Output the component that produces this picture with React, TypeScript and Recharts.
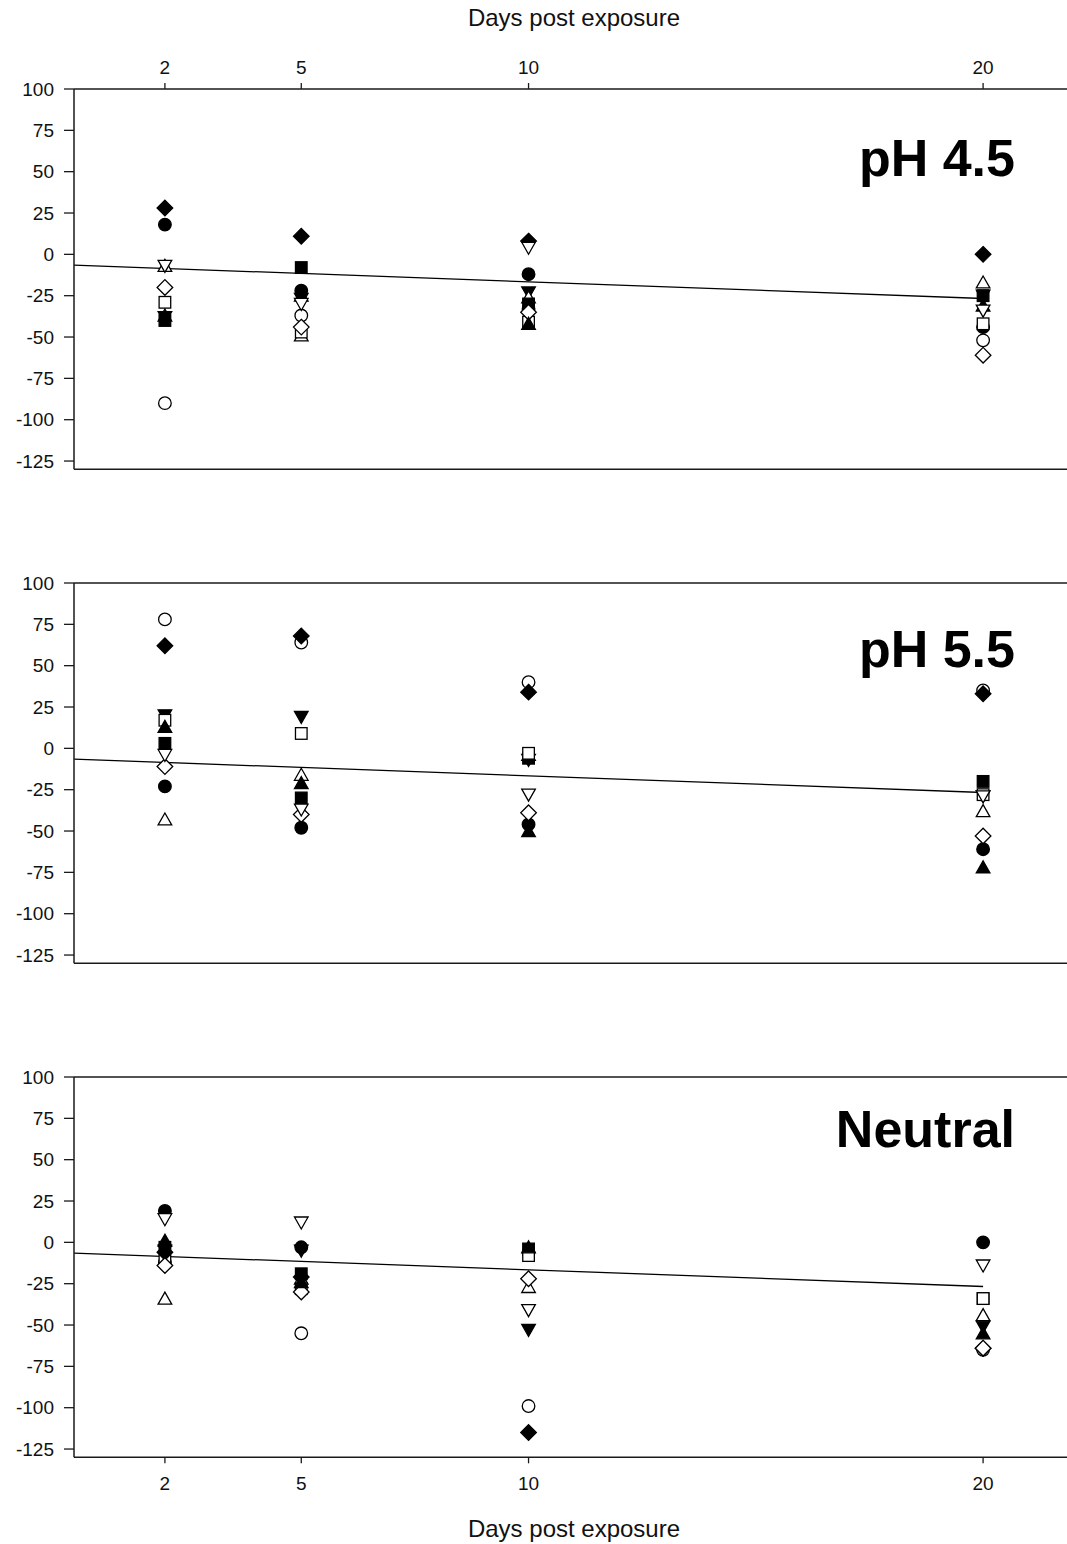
import React from 'react';
import { ScatterChart, Scatter, XAxis, YAxis, ReferenceLine } from 'recharts';

// ---------- data ----------
const days = [2, 5, 10, 20];
const dayTicks = [2, 5, 10, 20];
const yTicks = [-125, -100, -75, -50, -25, 0, 25, 50, 75, 100];
const yDomain = [-130, 100];
const xDomain = [0, 22];
const fitDays = [0, 20];
const fitValues = [-6.5, -26.7];
const panelLabels = ['pH 4.5', 'pH 5.5', 'Neutral'];
const axisTitle = 'Days post exposure';

// pH 4.5
const ph45FilledCircle = [18, -22, -12, -44];
const ph45OpenCircle = [-90, -37, -33, -52];
const ph45FilledTriDown = [-38, -27, -23, -25];
const ph45OpenTriUp = [-7, -49, -26, -17];
const ph45FilledSquare = [-40, -8, -30, -25];
const ph45OpenSquare = [-29, -47, -41, -42];
const ph45FilledDiamond = [28, 11, 8, 0];
const ph45OpenDiamond = [-20, -44, -35, -61];
const ph45FilledTriUp = [-37, -25, -42, -31];
const ph45OpenTriDown = [-7, -30, 4, -34];

// pH 5.5
const ph55FilledCircle = [-23, -48, -46, -61];
const ph55OpenCircle = [78, 64, 40, 35];
const ph55FilledTriDown = [20, 19, -7, -29];
const ph55OpenTriUp = [-43, -16, -4, -38];
const ph55FilledSquare = [3, -30, -6, -20];
const ph55OpenSquare = [17, 9, -3, -28];
const ph55FilledDiamond = [62, 68, 34, 33];
const ph55OpenDiamond = [-11, -40, -39, -53];
const ph55FilledTriUp = [13, -21, -50, -72];
const ph55OpenTriDown = [-4, -37, -28, -29];

// Neutral
const neuFilledCircle = [19, -3, -6, 0];
const neuOpenCircle = [-12, -55, -99, -65];
const neuFilledTriDown = [-5, -5, -53, -51];
const neuOpenTriUp = [-34, -22, -27, -44];
const neuFilledSquare = [-3, -19, -4, -34];
const neuOpenSquare = [-11, -28, -8, -34];
const neuFilledDiamond = [-6, -21, -115, -64];
const neuOpenDiamond = [-14, -30, -22, -64];
const neuFilledTriUp = [1, -24, -3, -55];
const neuOpenTriDown = [14, 12, -41, -14];

// ---------- styling ----------
const FONT = '"Liberation Sans", Arial, Helvetica, sans-serif';
const AXIS = '#1a1a1a';

type Kind = 'circle' | 'up' | 'down' | 'square' | 'diamond';

// drawing order (later ones on top)
const seriesStyles: { kind: Kind; filled: boolean }[] = [
  { kind: 'circle', filled: true },
  { kind: 'circle', filled: false },
  { kind: 'down', filled: true },
  { kind: 'up', filled: false },
  { kind: 'square', filled: true },
  { kind: 'square', filled: false },
  { kind: 'diamond', filled: true },
  { kind: 'diamond', filled: false },
  { kind: 'up', filled: true },
  { kind: 'down', filled: false },
];

const panelSeries = [
  [ph45FilledCircle, ph45OpenCircle, ph45FilledTriDown, ph45OpenTriUp, ph45FilledSquare,
   ph45OpenSquare, ph45FilledDiamond, ph45OpenDiamond, ph45FilledTriUp, ph45OpenTriDown],
  [ph55FilledCircle, ph55OpenCircle, ph55FilledTriDown, ph55OpenTriUp, ph55FilledSquare,
   ph55OpenSquare, ph55FilledDiamond, ph55OpenDiamond, ph55FilledTriUp, ph55OpenTriDown],
  [neuFilledCircle, neuOpenCircle, neuFilledTriDown, neuOpenTriUp, neuFilledSquare,
   neuOpenSquare, neuFilledDiamond, neuOpenDiamond, neuFilledTriUp, neuOpenTriDown],
];

function Marker(props: any) {
  const { cx, cy, kind, filled } = props;
  if (cx == null || cy == null) return null;
  const fill = filled ? '#000' : '#fff';
  const common = { fill, stroke: '#000', strokeWidth: 1.3 };
  switch (kind as Kind) {
    case 'circle':
      return <circle cx={cx} cy={cy} r={6.3} {...common} />;
    case 'square':
      return <rect x={cx - 5.8} y={cy - 5.8} width={11.6} height={11.6} {...common} />;
    case 'up':
      return <path d={`M${cx},${cy - 6.5} L${cx + 6.8},${cy + 5.5} L${cx - 6.8},${cy + 5.5} Z`} {...common} />;
    case 'down':
      return <path d={`M${cx - 6.8},${cy - 5.5} L${cx + 6.8},${cy - 5.5} L${cx},${cy + 6.5} Z`} {...common} />;
    case 'diamond':
      return <path d={`M${cx},${cy - 7.8} L${cx + 7.8},${cy} L${cx},${cy + 7.8} L${cx - 7.8},${cy} Z`} {...common} />;
  }
  return null;
}

const CHART_W = 1074;
const PLOT_TOP = 89;
const PLOT_BOTTOM = 469.3;

function Panel({ index, top }: { index: number; top: number }) {
  const isTop = index === 0;
  const isBottom = index === 2;
  const height = isBottom ? 556 : 480;
  const margin = {
    top: isTop ? 0 : PLOT_TOP,
    right: 0,
    left: 0,
    bottom: isBottom ? 0 : height - PLOT_BOTTOM,
  };
  const tickStyle = { fontSize: 19, fill: '#111', fontFamily: FONT };
  const labelStyle = { fontSize: 24, fill: '#111', fontFamily: FONT };
  return (
    <div style={{ position: 'absolute', left: 0, top, width: CHART_W, height }}>
      <ScatterChart width={CHART_W} height={height} margin={margin}>
        <XAxis
          type="number"
          dataKey="x"
          domain={xDomain}
          ticks={dayTicks}
          allowDataOverflow
          orientation={isTop ? 'top' : 'bottom'}
          hide={!isTop && !isBottom}
          height={isTop ? PLOT_TOP : isBottom ? height - PLOT_BOTTOM : 0}
          tickSize={6}
          tickMargin={isTop ? 9 : 13}
          tick={tickStyle}
          axisLine={{ stroke: AXIS, strokeWidth: 1.5 }}
          tickLine={{ stroke: AXIS, strokeWidth: 1.3 }}
          label={{
            value: axisTitle,
            position: isTop ? 'insideTop' : 'insideBottom',
            offset: isTop ? 9 : 7,
            style: labelStyle,
          }}
        />
        <YAxis
          type="number"
          dataKey="y"
          domain={yDomain}
          ticks={yTicks}
          allowDataOverflow
          width={74}
          tickSize={10}
          tickMargin={10}
          tick={tickStyle}
          axisLine={{ stroke: AXIS, strokeWidth: 1.5 }}
          tickLine={{ stroke: AXIS, strokeWidth: 1.3 }}
        />
        {!isTop && <ReferenceLine y={yDomain[1]} stroke={AXIS} strokeWidth={1.5} />}
        {!isBottom && <ReferenceLine y={yDomain[0]} stroke={AXIS} strokeWidth={1.5} />}
        <ReferenceLine
          segment={[
            { x: fitDays[0], y: fitValues[0] },
            { x: fitDays[1], y: fitValues[1] },
          ]}
          stroke="#000"
          strokeWidth={1.3}
        />
        {seriesStyles.map((s, si) => (
          <Scatter
            key={si}
            name={`${s.kind}-${s.filled ? 'filled' : 'open'}`}
            data={days.map((d, i) => ({ x: d, y: panelSeries[index][si][i] }))}
            isAnimationActive={false}
            shape={(p: any) => <Marker {...p} kind={s.kind} filled={s.filled} />}
          />
        ))}
      </ScatterChart>
    </div>
  );
}

const panelTops = [0, 494, 988];
const labelBaselines = [176, 667, 1147];

export default function App() {
  return (
    <div
      style={{
        position: 'absolute',
        left: 0,
        top: 0,
        width: 1067,
        height: 1544,
        overflow: 'hidden',
        background: '#fff',
      }}
    >
      {panelTops.map((t, i) => (
        <Panel key={i} index={i} top={t} />
      ))}
      <svg
        width={1067}
        height={1544}
        style={{ position: 'absolute', left: 0, top: 0, pointerEvents: 'none' }}
      >
        {panelLabels.map((lbl, i) => (
          <text
            key={lbl}
            x={1015}
            y={labelBaselines[i]}
            textAnchor="end"
            fontSize={52}
            fontWeight="bold"
            fontFamily={FONT}
            fill="#000"
          >
            {lbl}
          </text>
        ))}
      </svg>
    </div>
  );
}
